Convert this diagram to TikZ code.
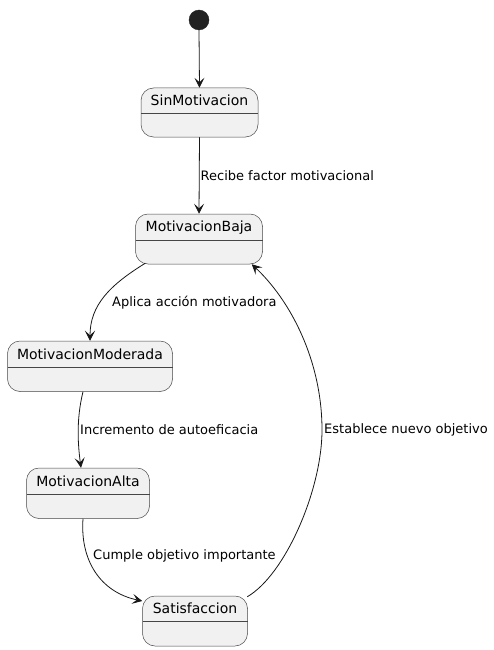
\documentclass[tikz,border=0pt]{standalone}
\usepackage{fontspec}
\setmainfont{DejaVu Sans}
\usetikzlibrary{arrows.meta,fit}
\definecolor{fillC}{HTML}{F1F1F1}
\definecolor{lineC}{HTML}{181818}
\definecolor{dotC}{HTML}{222222}
\tikzset{
  st/.style={draw=lineC!80, fill=fillC, rounded corners=12.5pt, line width=0.5pt, inner sep=0pt},
  ttl/.style={font=\fontsize{14}{16}\selectfont, inner sep=0pt, text=black},
  lbl/.style={font=\fontsize{13}{15}\selectfont, anchor=west, inner sep=0pt, text=black},
  tr/.style={draw=lineC, line width=0.8pt, -{Stealth[length=10pt,width=10pt,inset=4.5pt]}}
}
\newcommand\mkstate[7]{%
  \node[st, fit={(#2,#3)(#4,#5)}] (#1) {};
  \draw[lineC!80, line width=0.5pt] (#2,#6) -- (#4,#6);
  \node[ttl] (#1t) at ({(#2+#4)/2},{(#3+#6)/2}) {#7};
}
\begin{document}
\begin{tikzpicture}[x=1pt,y=-1pt]
\useasboundingbox (0,0) rectangle (494,650);
\node[circle, fill=dotC, draw=dotC, minimum size=20pt, inner sep=0pt] (init) at (199,20) {};
\mkstate{sin}{141}{88}{258}{137}{113}{SinMotivacion}
\mkstate{baja}{135.5}{214}{262.5}{264}{240.5}{MotivacionBaja}
\mkstate{mod}{7.5}{341}{172.5}{391.5}{367}{MotivacionModerada}
\mkstate{alta}{26.5}{468}{149.5}{518.5}{494}{MotivacionAlta}
\mkstate{sat}{142.5}{596}{247.5}{646}{621}{Satisfaccion}

\draw[tr] (init.south) -- (sin.north);
\draw[tr] (sin.south) -- (baja.north) node[lbl, pos=0.5, xshift=1pt] (l1) {Recibe factor motivacional};
\draw[tr] ([xshift=10pt,yshift=1pt]baja.south west) .. controls (110,285) and (90,305) .. (mod.north);
\node[lbl] (l2) at (112,303) {Aplica acción motivadora};
\draw[tr] ([xshift=-7pt]mod.south) .. controls (76,420) and (78,445) .. ([xshift=-7pt]alta.north);
\node[lbl] (l3) at (80,430) {Incremento de autoeficacia};
\draw[tr] ([xshift=-5pt]alta.south) .. controls (80,560) and (100,592) .. ([yshift=20pt]sat.west);
\node[lbl] (l4) at (93,556) {Cumple objetivo importante};
\draw[tr] ([xshift=-0.5pt,yshift=-1pt]sat.north east) .. controls (285,575) and (322,490) .. (322,430) .. controls (322,360) and (290,300) .. ([xshift=-11pt]baja.south east);
\node[lbl] (l5) at (324,430) {Establece nuevo objetivo};
\end{tikzpicture}
\end{document}
